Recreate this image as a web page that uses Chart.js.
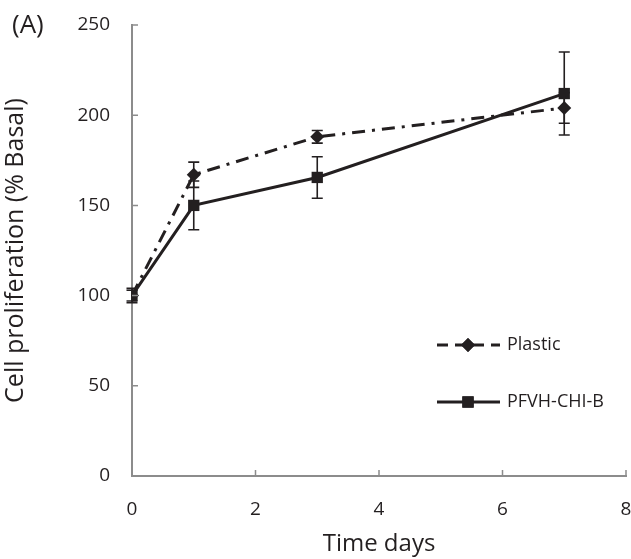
<!DOCTYPE html>
<html>
<head>
<meta charset="utf-8">
<script src="https://cdn.jsdelivr.net/npm/chart.js@4/dist/chart.umd.min.js"></script>
<style>
  html, body { margin: 0; padding: 0; background: #fff; }
  #wrap { width: 631px; height: 559px; }
</style>
</head>
<body>
<div id="wrap"><canvas id="chart" width="631" height="559"></canvas></div>
<script>
// Values
const days = [0, 1, 3, 7];
const plastic = [100, 167, 188, 204];
const plasticErr = [4, 7, 3.5, 8.5];
const pfvh = [100, 150, 165.5, 212];
const pfvhErr = [3, 13.5, 11.5, 23];
const xTicks = [0, 2, 4, 6, 8];
const yTicks = [0, 50, 100, 150, 200, 250];

const ink = '#231f20';
const axisGrey = '#8c8c8c';
const font = '"Open Sans", sans-serif';

function toPoints(xs, ys) {
    return xs.map((x, i) => ({ x: x, y: ys[i] }));
}

// Error bars with caps, drawn before the lines and markers
const errorBars = {
    id: 'errorBars',
    beforeDatasetsDraw(chart) {
        const ctx = chart.ctx;
        const xs = chart.scales.x, ys = chart.scales.y;
        ctx.save();
        ctx.strokeStyle = ink;
        ctx.lineWidth = 1.6;
        chart.data.datasets.forEach(ds => {
            ds.data.forEach((p, i) => {
                const e = ds.errors[i];
                const px = xs.getPixelForValue(p.x);
                const top = ys.getPixelForValue(p.y + e);
                const bot = ys.getPixelForValue(p.y - e);
                ctx.beginPath();
                ctx.moveTo(px, top); ctx.lineTo(px, bot);
                ctx.moveTo(px - 5.5, top); ctx.lineTo(px + 5.5, top);
                ctx.moveTo(px - 5.5, bot); ctx.lineTo(px + 5.5, bot);
                ctx.stroke();
            });
        });
        ctx.restore();
    }
};

// Short tick marks pointing into the plot, panel letter and the legend
const extras = {
    id: 'extras',
    afterDraw(chart) {
        const ctx = chart.ctx;
        const xs = chart.scales.x, ys = chart.scales.y;
        const area = chart.chartArea;
        ctx.save();
        ctx.strokeStyle = axisGrey;
        ctx.lineWidth = 1.5;
        ctx.beginPath();
        xTicks.forEach(v => {
            if (v === 0) return;
            const px = xs.getPixelForValue(v);
            ctx.moveTo(px, area.bottom); ctx.lineTo(px, area.bottom - 6);
        });
        yTicks.forEach(v => {
            if (v === 0) return;
            const py = ys.getPixelForValue(v);
            ctx.moveTo(area.left, py); ctx.lineTo(area.left + 6, py);
        });
        ctx.stroke();

        ctx.fillStyle = ink;
        ctx.font = '26px ' + font;
        ctx.textBaseline = 'middle';
        ctx.textAlign = 'left';
        ctx.fillText('(A)', 12, 26);

        // legend
        const rows = [345, 402];
        chart.data.datasets.forEach((ds, i) => {
            const y = rows[i];
            ctx.strokeStyle = ink;
            ctx.lineWidth = 3;
            ctx.setLineDash(ds.legendDash || []);
            ctx.beginPath();
            ctx.moveTo(437, y); ctx.lineTo(500, y);
            ctx.stroke();
            ctx.setLineDash([]);
            Chart.helpers.drawPoint(ctx, {
                pointStyle: ds.pointStyle, radius: ds.pointRadius, borderWidth: 0
            }, 468, y);
            ctx.fillStyle = ink;
            ctx.fill();
            ctx.font = '18px ' + font;
            ctx.fillText(ds.label, 507, y);
        });
        ctx.restore();
    }
};

new Chart(document.getElementById('chart'), {
    type: 'scatter',
    data: {
        datasets: [
            {
                label: 'Plastic',
                data: toPoints(days, plastic),
                errors: plasticErr,
                showLine: true,
                borderColor: ink,
                backgroundColor: ink,
                borderWidth: 3,
                borderDash: [13, 7, 3, 7],
                legendDash: [11, 7],
                pointStyle: 'rectRot',
                pointRadius: 7,
                pointBorderWidth: 0,
                order: 1
            },
            {
                label: 'PFVH-CHI-B',
                data: toPoints(days, pfvh),
                errors: pfvhErr,
                showLine: true,
                borderColor: ink,
                backgroundColor: ink,
                borderWidth: 3,
                pointStyle: 'rect',
                pointRadius: 8,
                pointBorderWidth: 0,
                order: 0
            }
        ]
    },
    options: {
        responsive: false,
        animation: false,
        layout: { autoPadding: false, padding: { top: 25, right: 5, left: 0, bottom: 0 } },
        plugins: { legend: { display: false }, tooltip: { enabled: false } },
        scales: {
            x: {
                type: 'linear', min: 0, max: 8,
                afterBuildTicks: s => { s.ticks = xTicks.map(v => ({ value: v })); },
                afterFit: s => { s.height = 83; s.paddingRight = 0; s.paddingLeft = 0; },
                grid: { drawOnChartArea: false, drawTicks: false },
                border: { color: axisGrey, width: 2 },
                ticks: { color: ink, padding: 22, font: { family: font, size: 19 } },
                title: { display: true, text: 'Time days', color: ink,
                         padding: { top: 4, bottom: 0 }, font: { family: font, size: 24 } }
            },
            y: {
                type: 'linear', min: 0, max: 250,
                afterBuildTicks: s => { s.ticks = yTicks.map(v => ({ value: v })); },
                afterFit: s => { s.width = 132; s.paddingTop = 0; s.paddingBottom = 0; },
                grid: { drawOnChartArea: false, drawTicks: false },
                border: { color: axisGrey, width: 2 },
                ticks: { color: ink, padding: 22, font: { family: font, size: 19 } },
                title: { display: true, text: 'Cell proliferation (% Basal)', color: ink,
                         padding: { top: 1, bottom: 4 }, font: { family: font, size: 25 } }
            }
        }
    },
    plugins: [errorBars, extras]
});
</script>
</body>
</html>
